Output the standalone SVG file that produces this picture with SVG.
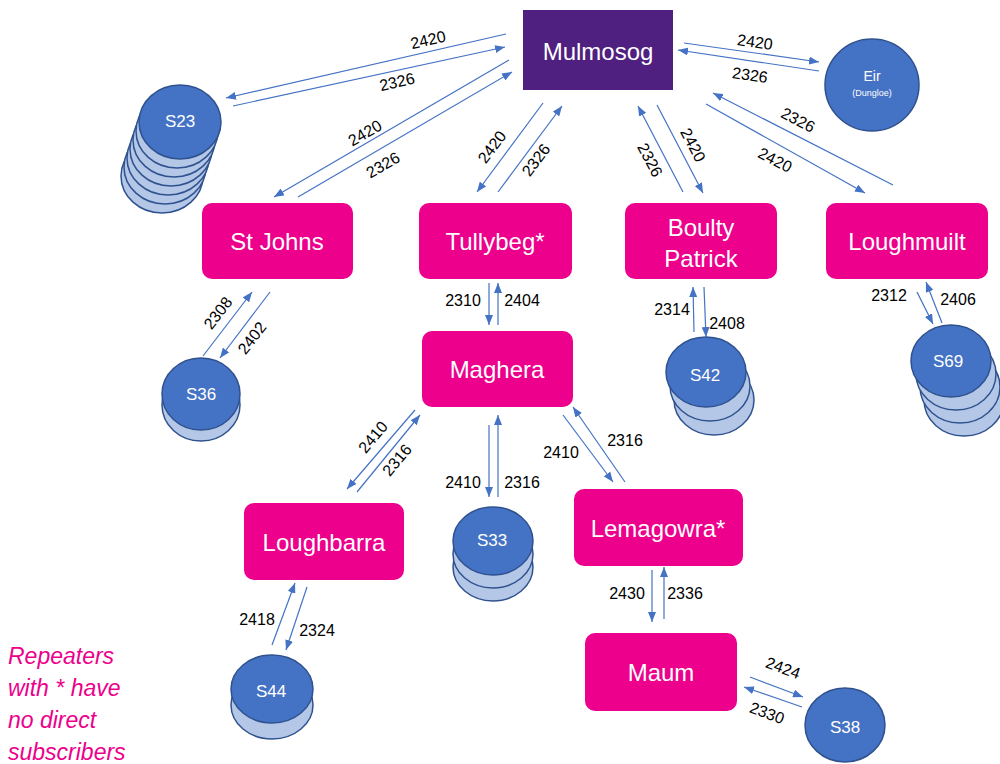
<svg xmlns="http://www.w3.org/2000/svg" width="1000" height="764" viewBox="0 0 1000 764">
<defs>
<marker id="ah" markerUnits="userSpaceOnUse" markerWidth="10" markerHeight="8" refX="10" refY="4" orient="auto">
<path d="M0,0 L10,4 L0,8 z" fill="#4472C4"/>
</marker>
<style>
.node{fill:#EC008C}
.top{fill:#4472C4;stroke:#2F528F;stroke-width:1.5}
.low{fill:#B4C7E7;stroke:#2F528F;stroke-width:1.5}
.nt{font-family:"Liberation Sans",Arial,sans-serif;font-size:24px;fill:#fff;text-anchor:middle;dominant-baseline:central}
.ct{font-family:"Liberation Sans",Arial,sans-serif;font-size:17px;fill:#fff;text-anchor:middle;dominant-baseline:central}
.e{stroke:#4472C4;stroke-width:1.2;fill:none;marker-end:url(#ah)}
.lb{font-family:"Liberation Sans",Arial,sans-serif;font-size:16px;fill:#000;text-anchor:middle;dominant-baseline:central}
.note{font-family:"Liberation Sans",Arial,sans-serif;font-size:23px;font-style:italic;fill:#EC008C}
</style>
</defs>
<rect width="1000" height="764" fill="#fff"/>

<g id="mulmosog">
<rect x="523" y="10" width="150" height="80" fill="#4F2080"/>
<text class="nt" x="598" y="51" font-size="25">Mulmosog</text>
</g>
<g id="eir">
<ellipse class="top" cx="872" cy="85" rx="47" ry="46"/>
<text x="872" y="76" font-family="Liberation Sans,Arial,sans-serif" font-size="14" fill="#fff" text-anchor="middle" dominant-baseline="central">Eir</text>
<text x="872" y="93" font-family="Liberation Sans,Arial,sans-serif" font-size="9" fill="#fff" text-anchor="middle" dominant-baseline="central">(Dungloe)</text>
</g>
<g id="stjohns">
<rect class="node" x="202" y="203" width="151" height="76" rx="10"/>
<text class="nt" x="277" y="241">St Johns</text>
</g>
<g id="tullybeg">
<rect class="node" x="419" y="203" width="153" height="76" rx="10"/>
<text class="nt" x="495" y="241">Tullybeg*</text>
</g>
<g id="boultypatrick">
<rect class="node" x="625" y="203" width="152" height="76" rx="10"/>
<text class="nt" x="701" y="227">Boulty</text>
<text class="nt" x="701" y="258">Patrick</text>
</g>
<g id="loughmuilt">
<rect class="node" x="826" y="203" width="162" height="76" rx="10"/>
<text class="nt" x="907" y="241">Loughmuilt</text>
</g>
<g id="maghera">
<rect class="node" x="422" y="331" width="151" height="76" rx="10"/>
<text class="nt" x="497" y="369">Maghera</text>
</g>
<g id="loughbarra">
<rect class="node" x="244" y="503" width="160" height="77" rx="10"/>
<text class="nt" x="324" y="542">Loughbarra</text>
</g>
<g id="lemagowra">
<rect class="node" x="574" y="489" width="169" height="77" rx="10"/>
<text class="nt" x="658" y="528">Lemagowra*</text>
</g>
<g id="maum">
<rect class="node" x="585" y="633" width="152" height="78" rx="10"/>
<text class="nt" x="661" y="672">Maum</text>
</g>

<g id="s23">
<ellipse class="low" cx="162" cy="176" rx="41" ry="37"/>
<ellipse class="low" cx="165" cy="167" rx="41" ry="37"/>
<ellipse class="low" cx="168" cy="158" rx="41" ry="37"/>
<ellipse class="low" cx="171" cy="149" rx="41" ry="37"/>
<ellipse class="low" cx="174" cy="140" rx="41" ry="37"/>
<ellipse class="low" cx="177" cy="131" rx="41" ry="37"/>
<ellipse class="top" cx="180" cy="122" rx="41" ry="37"/>
<text class="ct" x="180" y="121">S23</text>
</g>
<g id="s36">
<ellipse class="low" cx="201" cy="405" rx="39" ry="36"/>
<ellipse class="top" cx="201" cy="394" rx="39" ry="36"/>
<text class="ct" x="201" y="394">S36</text>
</g>
<g id="s42">
<ellipse class="low" cx="714" cy="400" rx="40" ry="35"/>
<ellipse class="low" cx="710" cy="386" rx="40" ry="35"/>
<ellipse class="top" cx="706" cy="372" rx="40" ry="35"/>
<text class="ct" x="705" y="375">S42</text>
</g>
<g id="s69">
<ellipse class="low" cx="964" cy="400" rx="40" ry="36"/>
<ellipse class="low" cx="960" cy="387" rx="40" ry="36"/>
<ellipse class="low" cx="956" cy="374" rx="40" ry="36"/>
<ellipse class="top" cx="951" cy="361" rx="40" ry="36"/>
<text class="ct" x="948" y="361">S69</text>
</g>
<g id="s33">
<ellipse class="low" cx="493" cy="567" rx="40" ry="34"/>
<ellipse class="low" cx="493" cy="554" rx="40" ry="34"/>
<ellipse class="top" cx="493" cy="541" rx="40" ry="34"/>
<text class="ct" x="492" y="540">S33</text>
</g>
<g id="s44">
<ellipse class="low" cx="272" cy="705" rx="41" ry="34"/>
<ellipse class="top" cx="272" cy="689" rx="41" ry="34"/>
<text class="ct" x="271" y="691">S44</text>
</g>
<g id="s38">
<ellipse class="top" cx="845" cy="725" rx="40" ry="37"/>
<text class="ct" x="845" y="727">S38</text>
</g>

<g id="connectors">
<line class="e" x1="506" y1="34" x2="226" y2="98"/>
<line class="e" x1="233" y1="106" x2="505" y2="47"/>
<line class="e" x1="509" y1="60" x2="274" y2="197"/>
<line class="e" x1="298" y1="197" x2="512" y2="72"/>
<line class="e" x1="543" y1="103" x2="477" y2="192"/>
<line class="e" x1="498" y1="192" x2="562" y2="106"/>
<line class="e" x1="683" y1="192" x2="638" y2="106"/>
<line class="e" x1="657" y1="105" x2="703" y2="193"/>
<line class="e" x1="893" y1="185" x2="713" y2="93"/>
<line class="e" x1="706" y1="104" x2="865" y2="193"/>
<line class="e" x1="684" y1="43" x2="819" y2="62"/>
<line class="e" x1="819" y1="71" x2="678" y2="50"/>
<line class="e" x1="203" y1="356" x2="252" y2="292"/>
<line class="e" x1="270" y1="292" x2="220" y2="358"/>
<line class="e" x1="489" y1="283" x2="489" y2="325"/>
<line class="e" x1="498" y1="325" x2="498" y2="283"/>
<line class="e" x1="694" y1="332" x2="693" y2="287"/>
<line class="e" x1="704" y1="287" x2="706" y2="337"/>
<line class="e" x1="917" y1="292" x2="933" y2="324"/>
<line class="e" x1="942" y1="323" x2="926" y2="282"/>
<line class="e" x1="415" y1="410" x2="347" y2="489"/>
<line class="e" x1="357" y1="492" x2="420" y2="415"/>
<line class="e" x1="489" y1="425" x2="489" y2="497"/>
<line class="e" x1="498" y1="497" x2="498" y2="415"/>
<line class="e" x1="563" y1="415" x2="613" y2="482"/>
<line class="e" x1="625" y1="482" x2="573" y2="407"/>
<line class="e" x1="652" y1="570" x2="652" y2="622"/>
<line class="e" x1="664" y1="619" x2="664" y2="567"/>
<line class="e" x1="750" y1="677" x2="803" y2="697"/>
<line class="e" x1="802" y1="707" x2="744" y2="687"/>
<line class="e" x1="272" y1="645" x2="295" y2="583"/>
<line class="e" x1="307" y1="587" x2="286" y2="650"/>
</g>

<g id="labels">
<text class="lb" transform="translate(428,40) rotate(-13)">2420</text>
<text class="lb" transform="translate(397,82) rotate(-13)">2326</text>
<text class="lb" transform="translate(365,133) rotate(-30)">2420</text>
<text class="lb" transform="translate(383,165) rotate(-30)">2326</text>
<text class="lb" transform="translate(492,147) rotate(-53)">2420</text>
<text class="lb" transform="translate(536,160) rotate(-53)">2326</text>
<text class="lb" transform="translate(650,160) rotate(62)">2326</text>
<text class="lb" transform="translate(693,145) rotate(62)">2420</text>
<text class="lb" transform="translate(798,120) rotate(27)">2326</text>
<text class="lb" transform="translate(775,160) rotate(27)">2420</text>
<text class="lb" transform="translate(755,42) rotate(8)">2420</text>
<text class="lb" transform="translate(750,75) rotate(8)">2326</text>
<text class="lb" transform="translate(218,313) rotate(-52)">2308</text>
<text class="lb" transform="translate(252,338) rotate(-52)">2402</text>
<text class="lb" x="463" y="300">2310</text>
<text class="lb" x="522" y="300">2404</text>
<text class="lb" x="672" y="309">2314</text>
<text class="lb" x="727" y="323">2408</text>
<text class="lb" x="889" y="295">2312</text>
<text class="lb" x="958" y="299">2406</text>
<text class="lb" transform="translate(373,437) rotate(-50)">2410</text>
<text class="lb" transform="translate(397,460) rotate(-50)">2316</text>
<text class="lb" x="463" y="482">2410</text>
<text class="lb" x="522" y="482">2316</text>
<text class="lb" x="561" y="452">2410</text>
<text class="lb" x="625" y="440">2316</text>
<text class="lb" x="627" y="593">2430</text>
<text class="lb" x="685" y="593">2336</text>
<text class="lb" transform="translate(783,668) rotate(20)">2424</text>
<text class="lb" transform="translate(767,713) rotate(20)">2330</text>
<text class="lb" x="257" y="619">2418</text>
<text class="lb" x="317" y="630">2324</text>
</g>

<g id="note">
<text class="note" x="8" y="664">Repeaters</text>
<text class="note" x="8" y="696">with * have</text>
<text class="note" x="8" y="728">no direct</text>
<text class="note" x="8" y="760">subscribers</text>
</g>
</svg>
